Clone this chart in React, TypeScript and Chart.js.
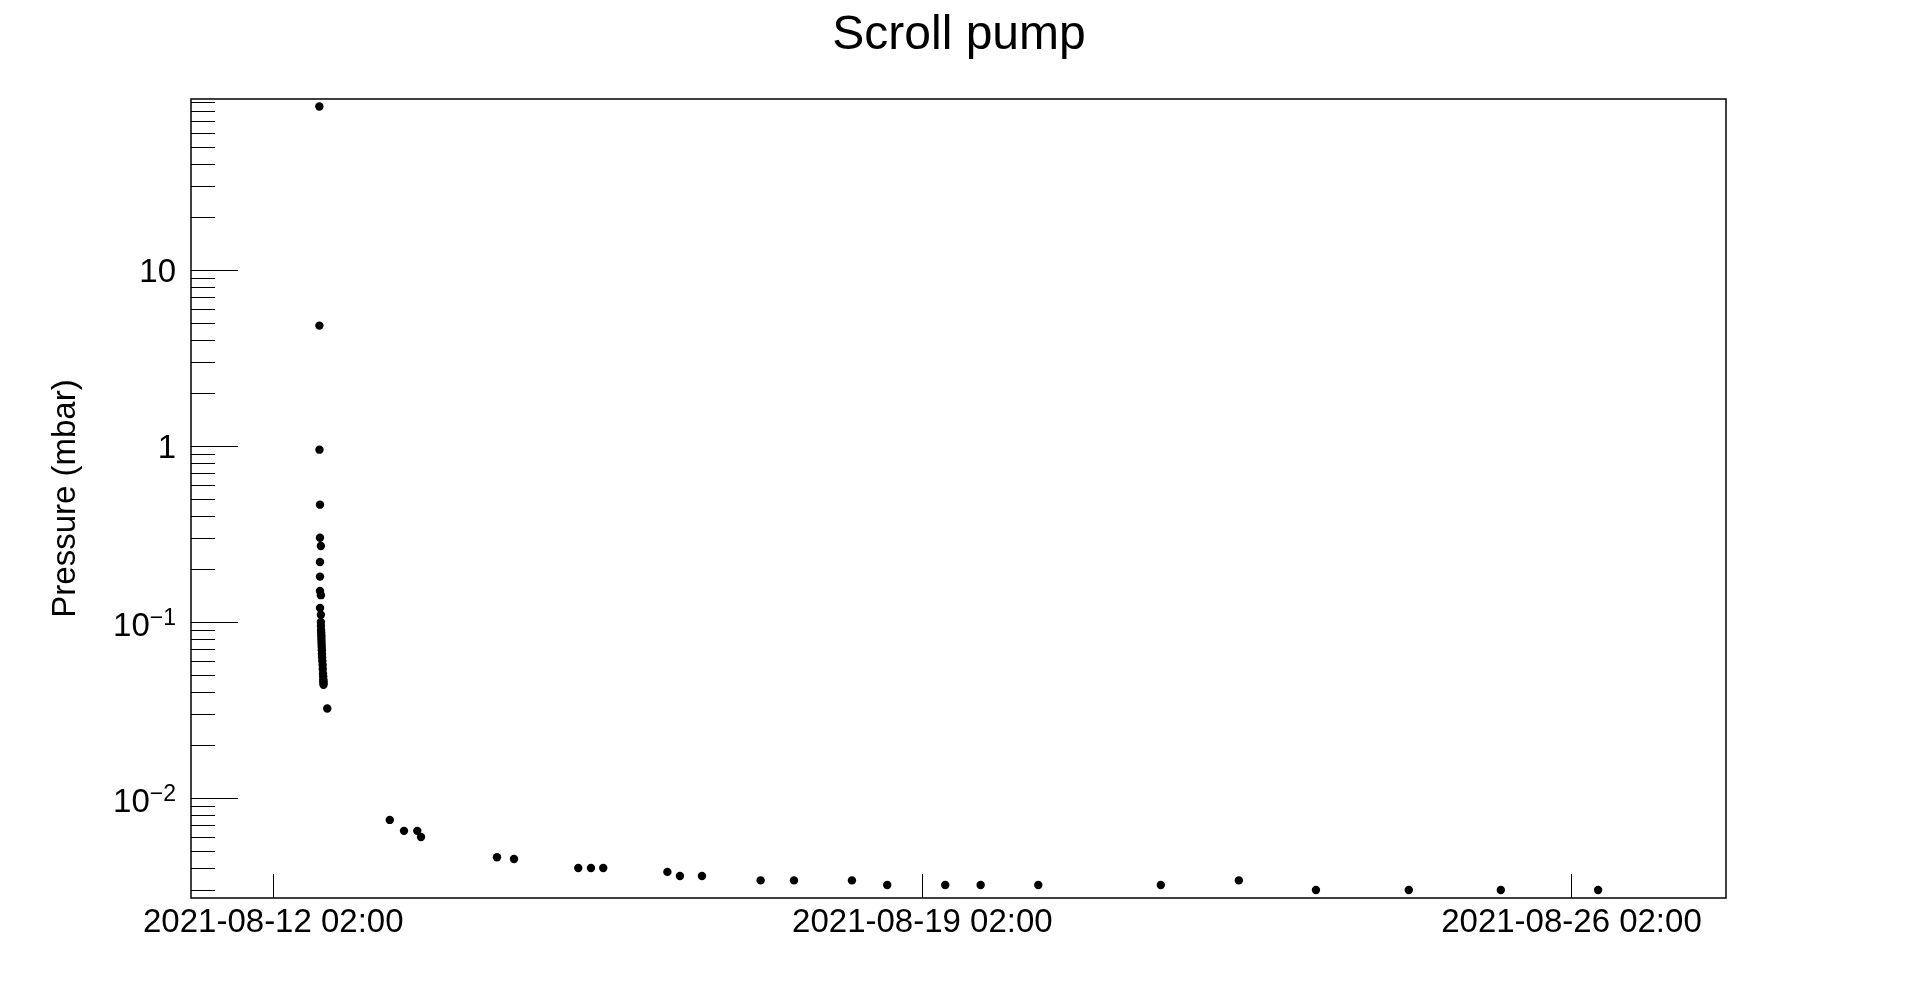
import React, { useEffect, useRef } from "react";
import { Chart, registerables } from "chart.js";

Chart.register(...registerables);

const FONT = "'Liberation Sans', Arial, Helvetica, sans-serif";

const TITLE = "Scroll pump";
const Y_TITLE = "Pressure (mbar)";

// time stamps of the readings
const timestamps: string[] = [
  "2021-08-12 13:55", "2021-08-12 13:56", "2021-08-12 13:57",
  "2021-08-12 14:05", "2021-08-12 14:05", "2021-08-12 14:19",
  "2021-08-12 14:05", "2021-08-12 14:05", "2021-08-12 14:05",
  "2021-08-12 14:19", "2021-08-12 14:06", "2021-08-12 14:19",
  "2021-08-12 14:19",
  "2021-08-12 14:20", "2021-08-12 14:22", "2021-08-12 14:24", "2021-08-12 14:26",
  "2021-08-12 14:27", "2021-08-12 14:28", "2021-08-12 14:30", "2021-08-12 14:32",
  "2021-08-12 14:34", "2021-08-12 14:36", "2021-08-12 14:38", "2021-08-12 14:42",
  "2021-08-12 14:46", "2021-08-12 14:48", "2021-08-12 14:52", "2021-08-12 14:55",
  "2021-08-12 14:57", "2021-08-12 14:58", "2021-08-12 15:00", "2021-08-12 15:00",
  "2021-08-12 15:58",
  "2021-08-13 08:09", "2021-08-13 11:50", "2021-08-13 15:16", "2021-08-13 16:14",
  "2021-08-14 11:54", "2021-08-14 16:18",
  "2021-08-15 08:56", "2021-08-15 12:13", "2021-08-15 15:24",
  "2021-08-16 08:00", "2021-08-16 11:15", "2021-08-16 16:57",
  "2021-08-17 08:08", "2021-08-17 16:46", "2021-08-18 07:46", "2021-08-18 16:54",
  "2021-08-19 07:55", "2021-08-19 17:05", "2021-08-20 08:00", "2021-08-21 15:43",
  "2021-08-22 11:55", "2021-08-23 07:52", "2021-08-24 07:54", "2021-08-25 07:43",
  "2021-08-26 08:54",
];

// pressure in mbar
const pressures: number[] = [
  85, 4.83, 0.953,
  0.464, 0.301, 0.27,
  0.219, 0.181, 0.15,
  0.142, 0.12, 0.11,
  0.1,
  0.095, 0.09, 0.087, 0.084,
  0.081, 0.078, 0.075, 0.072,
  0.069, 0.066, 0.063, 0.06,
  0.057, 0.054, 0.051, 0.049,
  0.047, 0.046, 0.045, 0.044,
  0.0322,
  0.0075, 0.0065, 0.0065, 0.006,
  0.0046, 0.0045,
  0.004, 0.004, 0.004,
  0.0038, 0.0036, 0.0036,
  0.0034, 0.0034, 0.0034, 0.0032,
  0.0032, 0.0032, 0.0032, 0.0032,
  0.0034, 0.003, 0.003, 0.003,
  0.003,
];

const X_ORIGIN = "2021-08-12 02:00";
const xTickLabels: string[] = ["2021-08-12 02:00", "2021-08-19 02:00", "2021-08-26 02:00"];
const X_MIN_H = -21.3;
const X_MAX_H = 376.0;

const Y_MIN = 0.0027;
const Y_MAX = 93.7;
const yTickValues: number[] = [0.01, 0.1, 1, 10];
const yTickBase: string[] = ["10", "10", "1", "10"];
const yTickExp: string[] = ["\u22122", "\u22121", "", ""];

function absMinutes(s: string): number {
  const [d, t] = s.split(" ");
  const [Y, M, D] = d.split("-").map(Number);
  const [h, m] = t.split(":").map(Number);
  return Date.UTC(Y, M - 1, D, h, m) / 60000;
}
function toHours(s: string): number {
  return (absMinutes(s) - absMinutes(X_ORIGIN)) / 60;
}

const decorPlugin = {
  id: "rootDecor",
  afterDraw(chart: any) {
    const { ctx, chartArea: a, scales } = chart;
    const xs = scales.x;
    const ys = scales.y;
    ctx.save();
    ctx.strokeStyle = "#000";
    ctx.fillStyle = "#000";
    ctx.lineWidth = 1;
    // y ticks (major decades + minor 2..9)
    for (let e = -4; e <= 2; e++) {
      for (let k = 1; k <= 9; k++) {
        const v = k * Math.pow(10, e);
        if (v < Y_MIN || v > Y_MAX) continue;
        const py = Math.round(ys.getPixelForValue(v)) + 0.5;
        const len = k === 1 ? 47 : 24;
        ctx.beginPath();
        ctx.moveTo(a.left, py);
        ctx.lineTo(a.left + len, py);
        ctx.stroke();
      }
    }
    // x ticks
    xs.ticks.forEach((t: any) => {
      const px = Math.round(xs.getPixelForValue(t.value)) + 0.5;
      ctx.beginPath();
      ctx.moveTo(px, a.bottom);
      ctx.lineTo(px, a.bottom - 24);
      ctx.stroke();
    });
    // frame
    ctx.lineWidth = 1.5;
    ctx.strokeRect(a.left, a.top, a.right - a.left, a.bottom - a.top);

    // y tick labels with exponents
    const rightX = 176;
    yTickValues.forEach((v, i) => {
      const py = ys.getPixelForValue(v);
      const base = yTickBase[i];
      const exp = yTickExp[i];
      ctx.textBaseline = "alphabetic";
      if (exp) {
        ctx.font = `23px ${FONT}`;
        const ew = ctx.measureText(exp).width;
        ctx.textAlign = "left";
        ctx.fillText(exp, rightX - ew, py + 3);
        ctx.font = `33px ${FONT}`;
        ctx.textAlign = "right";
        ctx.fillText(base, rightX - ew, py + 14);
      } else {
        ctx.font = `33px ${FONT}`;
        ctx.textAlign = "right";
        ctx.fillText(base, rightX, py + 12);
      }
    });

    // main title
    ctx.font = `48px ${FONT}`;
    ctx.textAlign = "center";
    ctx.textBaseline = "alphabetic";
    ctx.fillText(TITLE, chart.width / 2, 49);
    ctx.restore();
  },
};

export default function App() {
  const ref = useRef<HTMLCanvasElement | null>(null);

  useEffect(() => {
    if (!ref.current) return;
    const points = timestamps.map((t, i) => ({ x: toHours(t), y: pressures[i] }));
    const xTickValues = xTickLabels.map(toHours);

    const chart = new Chart(ref.current, {
      type: "scatter",
      data: {
        datasets: [
          {
            label: "Pressure",
            data: points,
            backgroundColor: "#000",
            borderColor: "#000",
            borderWidth: 0,
            pointRadius: 4.2,
            pointHoverRadius: 4.2,
            pointStyle: "circle",
          },
        ],
      },
      options: {
        animation: false,
        responsive: false,
        devicePixelRatio: 1,
        layout: { padding: { left: 0, top: 99, right: 192, bottom: 0 } },
        plugins: {
          legend: { display: false },
          title: { display: false },
          tooltip: { enabled: false },
        },
        scales: {
          x: {
            type: "linear",
            min: X_MIN_H,
            max: X_MAX_H,
            grid: { display: false, drawTicks: false },
            border: { display: false },
            afterBuildTicks: (scale: any) => {
              scale.ticks = xTickValues.map((v) => ({ value: v }));
            },
            afterFit: (scale: any) => {
              scale.height = 100;
            },
            ticks: {
              autoSkip: false,
              maxRotation: 0,
              minRotation: 0,
              padding: 5,
              color: "#000",
              font: { family: FONT, size: 33 },
              callback: (value: any) => {
                const idx = xTickValues.findIndex((v) => Math.abs(v - Number(value)) < 1e-6);
                return idx >= 0 ? xTickLabels[idx] : "";
              },
            },
          },
          y: {
            type: "logarithmic",
            min: Y_MIN,
            max: Y_MAX,
            grid: { display: false, drawTicks: false },
            border: { display: false },
            ticks: { display: false },
            afterFit: (scale: any) => {
              scale.width = 191;
            },
            title: {
              display: true,
              text: Y_TITLE,
              color: "#000",
              font: { family: FONT, size: 33 },
              padding: { top: 46, bottom: 0 },
            },
          },
        },
      },
      plugins: [decorPlugin],
    });
    return () => chart.destroy();
  }, []);

  return (
    <div style={{ position: "fixed", left: 0, top: 0, width: 1918, height: 998, background: "#fff" }}>
      <canvas ref={ref} width={1918} height={998} style={{ width: 1918, height: 998, display: "block" }} />
    </div>
  );
}
